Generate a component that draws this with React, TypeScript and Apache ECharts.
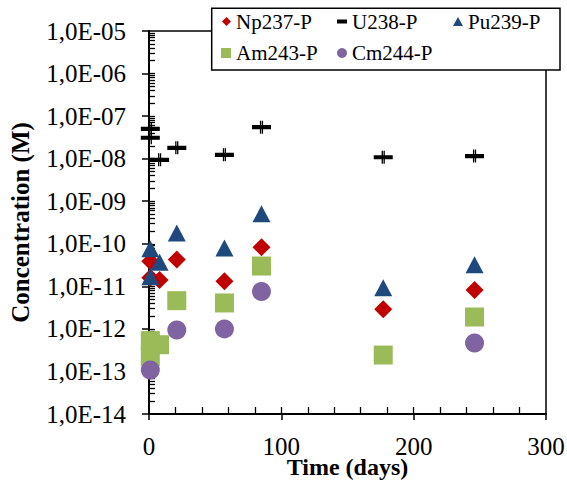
import React, { useEffect, useRef } from "react";
import * as echarts from "echarts";

const FONT = "Liberation Serif";

// Series data (days, concentration in M)
const npDays = [1, 1, 8, 21, 57, 85, 177, 246];
const npValues = [3.9e-11, 1.6e-11, 1.4e-11, 4.25e-11, 1.31e-11, 8.3e-11, 2.9e-12, 8.2e-12];
const uDays = [1, 1, 8, 21, 57, 85, 177, 246];
const uValues = [5.0e-8, 3.1e-8, 9.4e-9, 1.8e-8, 1.23e-8, 5.5e-8, 1.08e-8, 1.15e-8];
const puDays = [1, 8, 1, 21, 57, 85, 177, 246];
const puValues = [7.6e-11, 3.7e-11, 1.69e-11, 1.8e-10, 8.0e-11, 5.05e-10, 9.2e-12, 3.2e-11];
const amDays = [1, 8, 1, 21, 57, 85, 177, 246];
const amValues = [5.3e-13, 4.25e-13, 2.2e-13, 4.6e-12, 4.07e-12, 3.0e-11, 2.43e-13, 1.9e-12];
const cmDays = [1, 21, 57, 85, 246];
const cmValues = [1.08e-13, 9.4e-13, 1.0e-12, 7.6e-12, 4.65e-13];

const seriesNames = ["Np237-P", "U238-P", "Pu239-P", "Am243-P", "Cm244-P"];
const xTitle = "Time (days)";
const yTitle = "Concentration (M)";

const xMin = 0;
const xMax = 300;
const xInterval = 100;
const xMinorStep = 20;
const yMinExp = -14;
const yMaxExp = -5;

const zip = (d: number[], v: number[]) => d.map((x, i) => [x, v[i]]);
const U_PATH = "path://M0 4.4H19V8.6H0Z M7.9 0H9.2V13H7.9Z M9.8 0H11.1V13H9.8Z";

export default function App() {
  const ref = useRef<HTMLDivElement>(null);
  useEffect(() => {
    if (!ref.current) return;
    const chart = echarts.init(ref.current, undefined, { renderer: "svg" });
    const yInnerTicks: number[] = [];
    for (let k = yMinExp; k < yMaxExp; k++) {
      for (let m = 1; m <= 9; m++) {
        if (m === 1 && k === yMinExp) continue;
        yInnerTicks.push(m * Math.pow(10, k));
      }
    }
    const xInnerTicks: number[] = [];
    for (let d = xMin + xMinorStep; d < xMax; d += xMinorStep) xInnerTicks.push(d);

    const legendText = { fontFamily: FONT, fontSize: 21, color: "#000" };
    const mkLegend = (name: string, left: number, top: number, icon: string, w: number, h: number) => ({
      show: true, data: [{ name, icon }], left, top, padding: 0, itemWidth: w, itemHeight: h,
      itemGap: 0, textStyle: legendText, selectedMode: false, z: 100,
    });
    const row1 = 11;
    const row2 = 42.5;
    const logFmt = (v: number) => {
      const e = Math.round(Math.log10(v));
      return `1,0E${e < 0 ? "-" : "+"}${String(Math.abs(e)).padStart(2, "0")}`;
    };
    const mk = (i: number, days: number[], vals: number[], symbol: string, size: any, color: string) => ({
      name: seriesNames[i],
      type: "scatter",
      data: zip(days, vals),
      symbol,
      symbolSize: size,
      itemStyle: { color, opacity: 1 },
      emphasis: { disabled: true },
    });

    chart.setOption({
      animation: false,
      backgroundColor: "#fff",
      grid: {
        left: 149, right: 21, top: 31, bottom: 66, show: true, borderColor: "#000", borderWidth: 1.5,
        backgroundColor: "transparent", outerBoundsMode: "none", containLabel: false,
      },
      legend: [
        mkLegend(seriesNames[0], 222, row1, "diamond", 9, 9),
        mkLegend(seriesNames[1], 337, row1, "rect", 10, 4),
        mkLegend(seriesNames[2], 453, row1, "triangle", 10, 9),
        mkLegend(seriesNames[3], 221, row2, "rect", 10, 10),
        mkLegend(seriesNames[4], 337, row2, "circle", 10, 10),
      ],
      graphic: [
        { type: "rect", z: 50, shape: { x: 211.7, y: 8.3, width: 348.3, height: 61.7 },
          style: { fill: "#fff", stroke: "#000", lineWidth: 1.5 } },
        { type: "text", z: 50, x: 347.5, y: 467,
          style: { text: xTitle, font: `bold 24px ${FONT}`, fill: "#000", align: "center", verticalAlign: "middle" } },
      ],
      xAxis: [
        {
          type: "value", min: xMin, max: xMax, interval: xInterval,
          axisLine: { show: true, onZero: false, lineStyle: { color: "#000", width: 2 } },
          axisTick: { show: true, inside: false, length: 6, lineStyle: { color: "#000", width: 1.5 } },
          axisLabel: { fontFamily: FONT, fontSize: 25, color: "#000", margin: 20 },
          splitLine: { show: false },
        },
        {
          type: "value", min: xMin, max: xMax, interval: xInterval, position: "bottom",
          axisLine: { show: false, onZero: false },
          axisTick: { show: true, inside: true, length: 7, customValues: xInnerTicks, lineStyle: { color: "#000", width: 1.3 } },
          axisLabel: { show: false }, splitLine: { show: false },
        },
      ],
      yAxis: [
        {
          type: "log", logBase: 10, min: Math.pow(10, yMinExp), max: Math.pow(10, yMaxExp),
          name: yTitle, nameLocation: "middle", nameRotate: 90, nameGap: 116,
          nameTextStyle: { fontFamily: FONT, fontSize: 25, fontWeight: "bold", color: "#000" },
          axisLine: { show: true, onZero: false, lineStyle: { color: "#000", width: 2 } },
          axisTick: { show: true, inside: false, length: 7, lineStyle: { color: "#000", width: 1.5 } },
          axisLabel: { fontFamily: FONT, fontSize: 25, color: "#000", margin: 23, formatter: logFmt },
          splitLine: { show: false },
        },
        {
          type: "log", logBase: 10, min: Math.pow(10, yMinExp), max: Math.pow(10, yMaxExp), position: "left",
          axisLine: { show: false, onZero: false },
          axisTick: { show: true, inside: true, length: 6, customValues: yInnerTicks, lineStyle: { color: "#000", width: 1.3 } },
          axisLabel: { show: false }, splitLine: { show: false },
        },
      ],
      series: [
        mk(0, npDays, npValues, "diamond", [18, 18], "#C00000"),
        mk(1, uDays, uValues, U_PATH, [19, 13], "#000000"),
        mk(2, puDays, puValues, "triangle", [18, 17], "#1F497D"),
        mk(3, amDays, amValues, "rect", [19, 19], "#9BBB59"),
        mk(4, cmDays, cmValues, "circle", 19, "#8064A2"),
      ],
    });
    return () => chart.dispose();
  }, []);
  return <div ref={ref} style={{ position: "fixed", left: 0, top: 0, width: 567, height: 480 }} />;
}
